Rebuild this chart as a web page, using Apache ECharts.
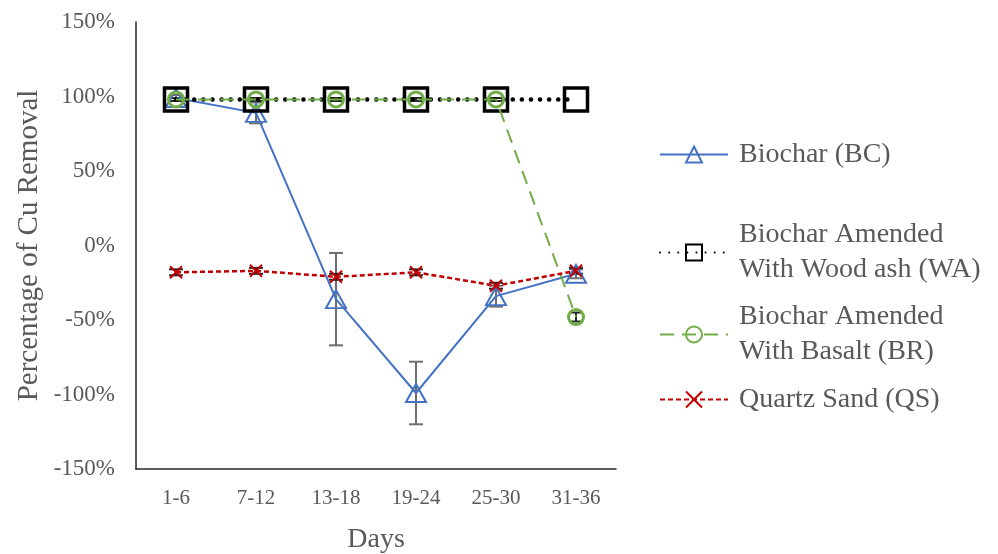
<!DOCTYPE html>
<html>
<head>
<meta charset="utf-8">
<script src="https://cdn.jsdelivr.net/npm/echarts@6/dist/echarts.min.js"></script>
<style>
html, body { margin: 0; padding: 0; background: #fff; }
#chart { width: 998px; height: 554px; }
</style>
</head>
<body>
<div id="chart"></div>
<script>
var days = ['1-6', '7-12', '13-18', '19-24', '25-30', '31-36'];

// % Cu removal
var bcValues = [99, 89, -36, -99, -34, -19];
var waValues = [98, 98, 98, 98, 98, 98];
var brValues = [98, 98, 98, 98, 98, -48];
var qsValues = [-18, -17, -21, -18, -27, -17];

// +/- error
var bcErr = [2, 7, 31, 21, 7, 3];
var brErr = [1, 1, 1, 1, 1, 3];
var qsErr = [2, 2, 2, 2, 2, 2];

var names = [
    'Biochar (BC)',
    'Biochar Amended\nWith Wood ash (WA)',
    'Biochar Amended\nWith Basalt (BR)',
    'Quartz Sand (QS)'
];

var font = 'Liberation Serif';
var textColor = '#595959';

function errData(vals, errs){
    var res = [];
    for (var i = 0; i < vals.length; i++){
        res.push([i, vals[i] - errs[i], vals[i] + errs[i]]);
    }
    return res;
}

function errSeries(vals, errs, color){
    return {
        type: 'custom',
        data: errData(vals, errs),
        z: 1,
        silent: true,
        animation: false,
        renderItem: function (params, api) {
            var lo = api.coord([api.value(0), api.value(1)]);
            var hi = api.coord([api.value(0), api.value(2)]);
            var w = 7;
            var style = { stroke: color, lineWidth: 2, fill: null };
            return {
                type: 'group',
                children: [
                    { type: 'line', shape: { x1: lo[0], y1: lo[1], x2: hi[0], y2: hi[1] }, style: style },
                    { type: 'line', shape: { x1: lo[0] - w, y1: lo[1], x2: lo[0] + w, y2: lo[1] }, style: style },
                    { type: 'line', shape: { x1: hi[0] - w, y1: hi[1], x2: hi[0] + w, y2: hi[1] }, style: style }
                ]
            };
        }
    };
}

function legendFor(name, top, multi){
    return {
        data: [name],
        left: 654,
        top: top,
        orient: 'vertical',
        itemWidth: 68,
        itemHeight: 20,
        selectedMode: false,
        textStyle: {
            fontFamily: font,
            fontSize: 28,
            color: textColor,
            lineHeight: 35,
            padding: multi ? [35, 0, 0, 6] : [0, 0, 0, 6]
        }
    };
}

var chart = echarts.init(document.getElementById('chart'));

var option = {
    backgroundColor: '#fff',
    animation: false,
    grid: { left: 136, top: 22, width: 480, height: 447, containLabel: false, outerBoundsMode: 'none' },
    legend: [
        legendFor(names[0], 132, false),
        legendFor(names[1], 195, true),
        legendFor(names[2], 277, true),
        legendFor(names[3], 377, false)
    ],
    xAxis: {
        type: 'category',
        data: days,
        name: 'Days',
        nameLocation: 'middle',
        nameGap: 57,
        nameTextStyle: { fontFamily: font, fontSize: 28, color: textColor },
        axisLine: { onZero: false, lineStyle: { color: '#262626', width: 1.5 } },
        axisTick: { show: false },
        axisLabel: { fontFamily: font, fontSize: 21, color: textColor, margin: 19 }
    },
    yAxis: {
        type: 'value',
        min: -150,
        max: 150,
        interval: 50,
        name: 'Percentage of Cu Removal',
        nameLocation: 'middle',
        nameGap: 92,
        nameTextStyle: { fontFamily: font, fontSize: 29, color: textColor },
        axisLine: { show: true, lineStyle: { color: '#262626', width: 1.5 } },
        axisTick: { show: false },
        splitLine: { show: false },
        axisLabel: {
            fontFamily: font, fontSize: 23, color: textColor, margin: 21,
            formatter: function (v) { return v + '%'; }
        }
    },
    series: [
        errSeries(bcValues, bcErr, '#6e6e6e'),
        errSeries(brValues, brErr, '#262626'),
        errSeries(qsValues, qsErr, '#262626'),
        {
            name: names[0],
            type: 'line',
            data: bcValues,
            z: 2,
            symbol: 'triangle',
            symbolSize: [20, 18],
            lineStyle: { color: '#4472C4', width: 2 },
            itemStyle: { color: 'rgba(255,255,255,0)', borderColor: '#4472C4', borderWidth: 2 }
        },
        {
            name: names[1],
            type: 'line',
            data: waValues,
            z: 3,
            symbol: 'rect',
            symbolSize: 23,
            lineStyle: { color: '#000', width: 4.5, type: [0.1, 9], cap: 'round' },
            itemStyle: { color: 'rgba(255,255,255,0)', borderColor: '#000', borderWidth: 3.5 }
        },
        {
            name: names[2],
            type: 'line',
            data: brValues,
            z: 4,
            symbol: 'circle',
            symbolSize: 15,
            lineStyle: { color: '#70AD47', width: 2, type: [14, 8] },
            itemStyle: { color: 'rgba(255,255,255,0)', borderColor: '#70AD47', borderWidth: 3 }
        },
        {
            name: names[3],
            type: 'line',
            data: qsValues,
            z: 5,
            symbol: 'path://M0,0L10,10M10,0L0,10',
            symbolSize: 12,
            lineStyle: { color: '#C00000', width: 2.5, type: [5, 3] },
            itemStyle: { color: 'rgba(0,0,0,0)', borderColor: '#C00000', borderWidth: 2 }
        }
    ]
};

chart.setOption(option);
</script>
</body>
</html>
